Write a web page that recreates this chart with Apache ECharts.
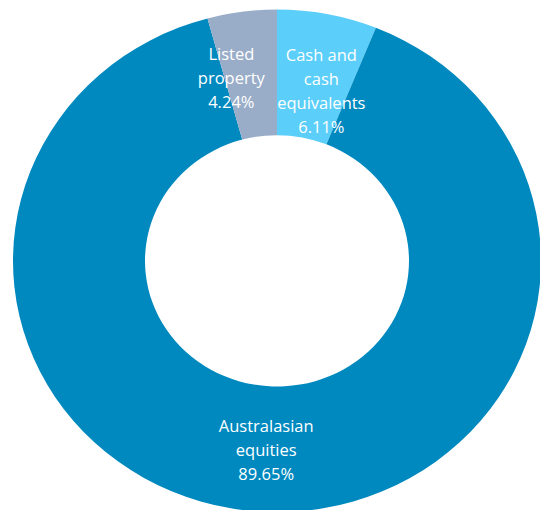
<!DOCTYPE html>
<html><head><meta charset="utf-8">
<script src="https://cdn.jsdelivr.net/npm/echarts@6/dist/echarts.min.js"></script>
<style>
html,body{margin:0;padding:0;background:#fff;overflow:hidden;}
#wrap{width:540px;height:510px;overflow:hidden;position:relative;}
#c{width:540px;height:536px;transform:scaleY(0.952);transform-origin:0 0;}
</style></head>
<body><div id="wrap"><div id="c"></div></div>
<script>
const categories = ['Cash and\ncash\nequivalents', 'Australasian\nequities', 'Listed\nproperty'];
const values = [6.11, 89.65, 4.24];
const colors = ['#5BCEFA', '#0089BF', '#9AADC8'];
const labelOffsets = [[6, 19], [1, -2], [-19, 7]];

const chart = echarts.init(document.getElementById('c'), null, {renderer: 'svg'});
chart.setOption({
  animation: false,
  series: [{
    type: 'pie',
    center: [277, 274],
    radius: [132, 264],
    startAngle: 90,
    clockwise: true,
    avoidLabelOverlap: false,
    labelLine: {show: false},
    data: categories.map((name, i) => ({
      name: name,
      value: values[i],
      itemStyle: {color: colors[i]},
      label: {offset: labelOffsets[i]}
    })),
    label: {
      show: true,
      position: 'inside',
      color: '#fff',
      fontFamily: 'Open Sans',
      fontSize: 16.5,
      lineHeight: 25,
      align: 'center',
      formatter: p => p.name + '\n' + p.value.toFixed(2) + '%'
    },
    emphasis: {disabled: true}
  }]
});
</script></body></html>
